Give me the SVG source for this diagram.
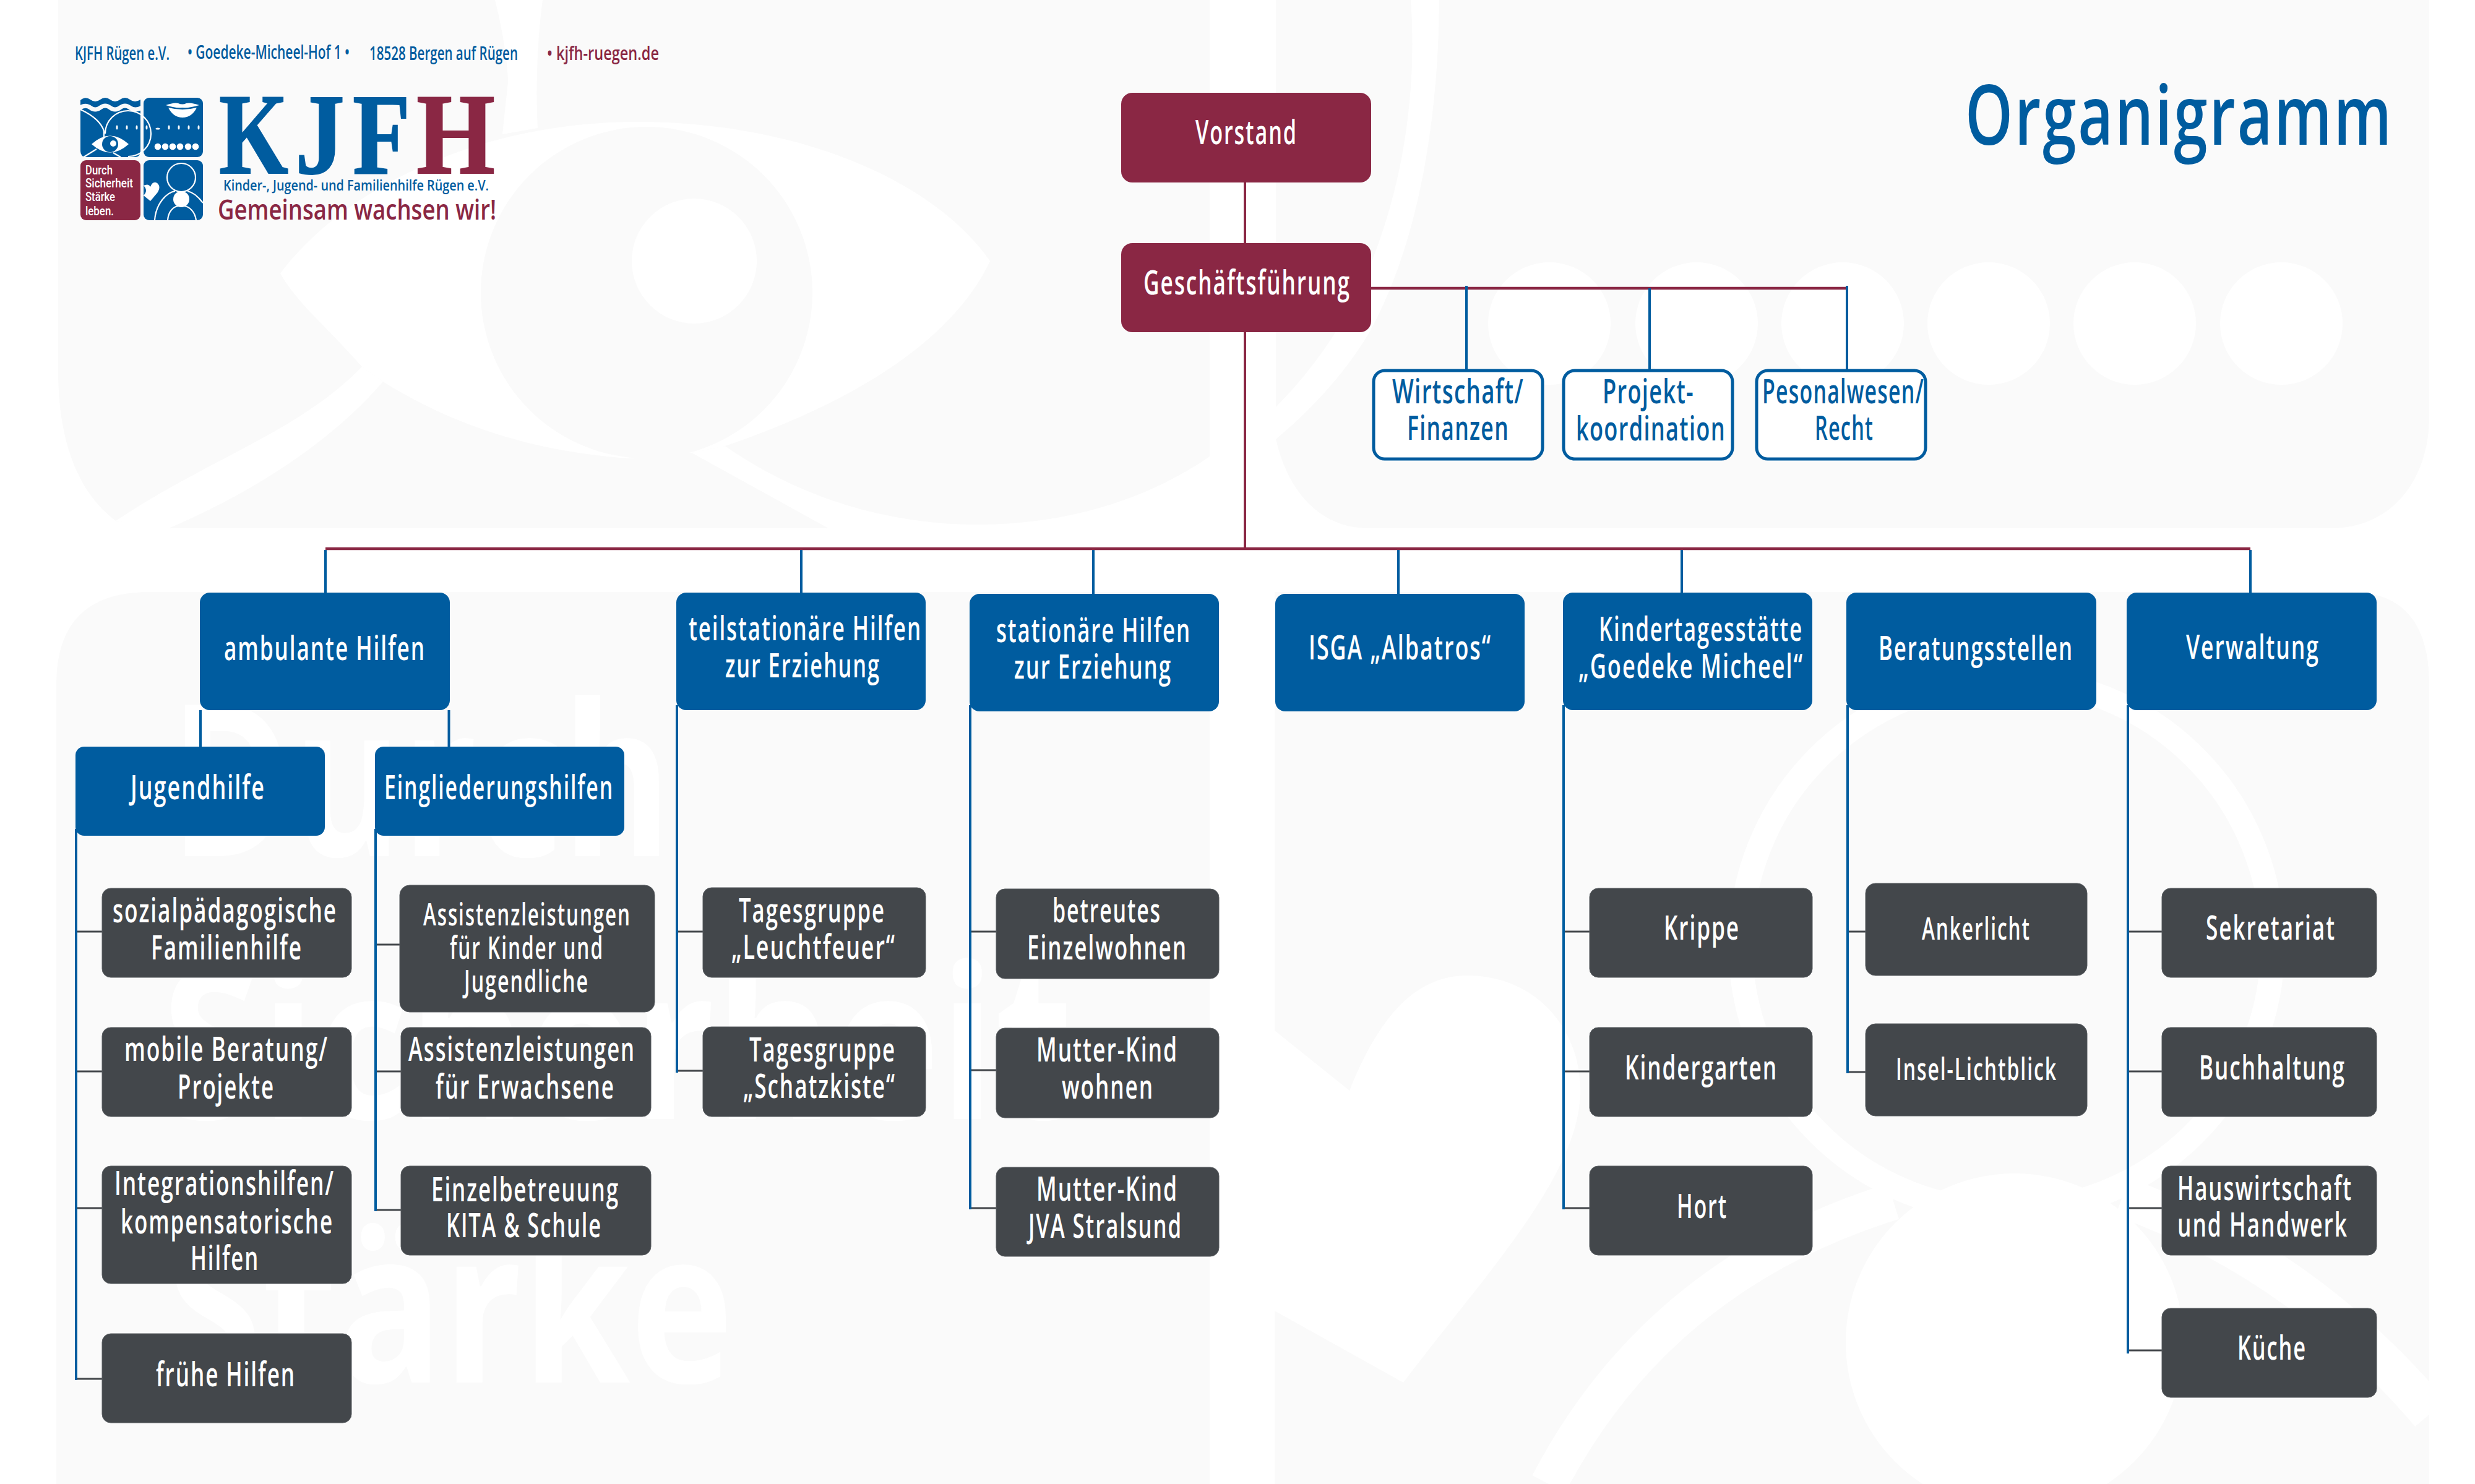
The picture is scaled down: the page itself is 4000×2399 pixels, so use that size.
<svg xmlns="http://www.w3.org/2000/svg" width="4000" height="2399" viewBox="0 0 4000 2399">
<style>
text{font-family:"Open Sans","Noto Sans","Liberation Sans",sans-serif;font-weight:600}
.bg{fill:#fafafa}.wh{fill:#fff}
.mark{font-weight:700;font-size:343px;fill:#fff}
.m{fill:#8a2744}.b{fill:#005c9f}.d{fill:#43474b;stroke:#5a5e62;stroke-width:1}.o{fill:#fff;stroke:#005c9f;stroke-width:5}
.l{fill:#fff;font-size:55px;letter-spacing:3px}.ls{fill:#fff;font-size:50px;letter-spacing:3px}.lb{fill:#005c9f;font-size:55px;letter-spacing:2px}
.hb{fill:#005c9f;font-size:31px}.hm{fill:#8a2744;font-size:31px}
.red{fill:none;stroke:#8a2744;stroke-width:4}.redt{fill:none;stroke:#8a2744;stroke-width:4.500}
.blue{fill:none;stroke:#005c9f;stroke-width:4}.tick{fill:none;stroke:#43474b;stroke-width:3}
.lw{fill:none;stroke:#fff;stroke-width:2.2}.lt{fill:#fff;font-size:20px;font-family:"Roboto","Open Sans",sans-serif;font-weight:500}
.ks{font-family:"Liberation Serif",serif;font-weight:700;font-size:186px;stroke-width:2}
</style>

<g id="background">
<path class="bg" d="M94,0H1955V854H268L187,842C130,800 94,720 94,600Z"/>
<path class="bg" d="M2062,0H3926V674C3926,770 3870,854 3766,854H2212C2130,854 2080,790 2062,710Z"/>
<path class="bg" d="M91,2399V1107Q91,957 241,957H1955V2399Z"/>
<path class="bg" d="M2060,957H3798Q3926,957 3926,1107V2399H2060Z"/>
<path class="wh" d="M800,0C815,60 821,110 821,133L812,217L869,207C865,130 870,50 877,0Z"/>
<path class="wh" d="M453,442C560,300 780,197 1031,197C1270,197 1500,280 1600,422C1540,550 1380,650 1172,721L1118,732L1018,741C850,730 720,680 619,617L585,593C530,530 480,490 453,442Z"/>
<path class="wh" d="M585,593L619,617C530,720 400,800 268,856L187,842C340,740 480,700 585,593Z"/>
<path class="wh" d="M1118,732L1172,721C1270,790 1410,848 1580,848C1720,848 1850,810 1955,738V858H1346Z"/>
<circle class="bg" cx="1045" cy="473" r="268"/>
<circle class="wh" cx="1122" cy="422" r="101"/>
<path class="wh" d="M2280,0H2326C2325,200 2290,400 2212,539C2170,610 2110,670 2062,710V658C2130,590 2190,500 2224,404C2270,280 2290,140 2280,0Z"/>
<circle class="wh" cx="2504" cy="523" r="99"/><circle class="wh" cx="2742" cy="523" r="99"/><circle class="wh" cx="2978" cy="523" r="99"/><circle class="wh" cx="3214" cy="523" r="99"/><circle class="wh" cx="3450" cy="523" r="99"/><circle class="wh" cx="3687" cy="523" r="99"/>
<text class="mark" x="275" y="1384" textLength="810" lengthAdjust="spacingAndGlyphs">Durch</text>
<text class="mark" x="261" y="1809" textLength="1473" lengthAdjust="spacingAndGlyphs">Sicherheit</text>
<text class="mark" x="268" y="2235" textLength="917" lengthAdjust="spacingAndGlyphs">Stärke</text>
<path class="wh" d="M2060,1666L2181,1763C2230,1640 2290,1577 2371,1577C2480,1577 2554,1660 2554,1763C2554,1900 2400,2060 2268,2235L2060,2119Z"/>
<circle cx="3243" cy="1528" r="430" fill="none" stroke="#fff" stroke-width="39"/>
<path d="M3060,1942Q2680,2060 2503,2399" fill="none" stroke="#fff" stroke-width="60"/>
<path d="M3430,1935Q3720,2040 3928,2285" fill="none" stroke="#fff" stroke-width="65"/>
<circle class="wh" cx="3256" cy="2170" r="273"/>
</g>

<g id="connectors">
<path class="red" d="M2012,295V393M2012,537V887"/>
<path class="redt" d="M2216,466H2985M526,887H3637"/>
<path class="blue" d="M2370,462V597M2666,466V597M2985,462V597M526,889V958M1295,889V958M1767,889V960M2260,889V960M2718,889V958M3637,889V958M324,1148V1207M725.500,1148V1207"/>
<path class="tick" d="M123,1506H165M123,1732H165M123,1953H165M123,2229H165M607,1527H646M607,1732H648M607,1956H648M1094,1506H1136M1094,1731H1136M1568,1506H1610M1568,1730H1610M1568,1953H1610M2527,1506H2569M2527,1732H2569M2527,1953H2569M2986,1506H3015M2986,1733H3015M3439,1506H3494M3439,1732H3494M3439,1953H3494M3439,2183H3494"/>
<path class="blue" d="M123,1340V2231M607,1340V1958M1094,1140V1734M1568,1140V1955M2527,1140V1955M2986,1140V1735M3439,1140V2188"/>
</g>

<g id="header">
<text class="hb" x="121" y="97" textLength="153" lengthAdjust="spacingAndGlyphs">KJFH Rügen e.V.</text>
<text class="hb" x="303" y="95" textLength="262" lengthAdjust="spacingAndGlyphs">• Goedeke-Micheel-Hof 1 •</text>
<text class="hb" x="597" y="97" textLength="240" lengthAdjust="spacingAndGlyphs">18528 Bergen auf Rügen</text>
<text class="hm" x="884" y="97" textLength="181" lengthAdjust="spacingAndGlyphs">• kjfh-ruegen.de</text>
<text id="title" x="3176" y="234" font-size="134" letter-spacing="4" fill="#005c9f" textLength="692" lengthAdjust="spacingAndGlyphs">Organigramm</text>
</g>

<g id="logo">
<path class="b" d="M130,162Q138,155 146,161T162,161T178,161T194,161T210,161T227,161V244Q227,254 217,254H140Q130,254 130,244Z"/>
<path d="M128,175Q138,168 146,174T162,174T178,174T194,174T210,174T229,174" fill="none" stroke="#fafafa" stroke-width="7"/>
<rect class="b" x="232" y="158" width="96" height="96" rx="9"/>
<rect class="m" x="130" y="259" width="97" height="97" rx="9"/>
<rect class="b" x="232" y="259" width="96" height="97" rx="9"/>
<path class="lw" d="M170,216A37,37 0 1 1 207,253"/>
<path class="lw" d="M130,177Q162,192 168,212V222M135,254L156,241M183,247L195,254"/>
<path d="M148,233Q178,206 208,233Q178,260 148,233Z" fill="#fff"/>
<circle class="b" cx="178" cy="233" r="13"/><circle class="wh" cx="183" cy="232" r="5"/>
<g fill="#fff"><ellipse cx="189" cy="206" rx="1.500" ry="3.500"/><ellipse cx="205" cy="206" rx="1.500" ry="3.500"/><ellipse cx="221" cy="206" rx="1.500" ry="3.500"/><ellipse cx="237" cy="206" rx="1.500" ry="3.500"/><ellipse cx="255" cy="208" rx="3.500" ry="1.500"/><ellipse cx="273" cy="206" rx="1.500" ry="3.500"/><ellipse cx="289" cy="206" rx="1.500" ry="3.500"/><ellipse cx="305" cy="206" rx="1.500" ry="3.500"/><ellipse cx="321" cy="206" rx="1.500" ry="3.500"/>
<circle cx="255" cy="237" r="5.300"/><circle cx="267" cy="237" r="5.300"/><circle cx="279" cy="237" r="5.300"/><circle cx="291" cy="237" r="5.300"/><circle cx="304" cy="237" r="5.300"/><circle cx="316" cy="237" r="5.300"/>
<path d="M268,170Q282,165 288,167Q295,170 301,167Q308,165 322,170Q306,175 295,174Q282,175 268,170Z"/>
<path d="M272,174Q295,180 318,174Q310,190 295,190Q280,190 272,174Z"/>
<path d="M232,300Q240,296 243,302Q247,292 254,296Q261,302 254,312L243,325L232,316Q240,308 232,300Z"/>
<circle cx="293" cy="322" r="13"/></g>
<circle class="lw" cx="293" cy="287" r="23"/>
<path class="lw" d="M250,356C252,328 270,311 283,309M303,309C313,311 322,320 328,328M271,356C272,342 280,334 288,333M298,333C306,334 315,342 317,356"/>
<text class="lt" x="138" y="282" textLength="44" lengthAdjust="spacingAndGlyphs">Durch</text>
<text class="lt" x="138" y="303" textLength="77" lengthAdjust="spacingAndGlyphs">Sicherheit</text>
<text class="lt" x="138" y="325" textLength="48" lengthAdjust="spacingAndGlyphs">Stärke</text>
<text class="lt" x="138" y="348" textLength="46" lengthAdjust="spacingAndGlyphs">leben.</text>
<text class="ks b" stroke="#005c9f" x="354" y="280" textLength="112" lengthAdjust="spacingAndGlyphs">K</text>
<text class="ks b" stroke="#005c9f" x="477" y="280" textLength="80" lengthAdjust="spacingAndGlyphs">J</text>
<text class="ks b" stroke="#005c9f" x="570" y="280" textLength="93" lengthAdjust="spacingAndGlyphs">F</text>
<text class="ks m" stroke="#8a2744" x="673" y="280" textLength="127" lengthAdjust="spacingAndGlyphs">H</text>
<text x="361" y="308" font-size="24" fill="#005c9f" textLength="429" lengthAdjust="spacingAndGlyphs">Kinder-, Jugend- und Familienhilfe Rügen e.V.</text>
<text x="352" y="355" font-size="46" fill="#8a2744" textLength="450" lengthAdjust="spacingAndGlyphs">Gemeinsam wachsen wir!</text>
</g>

<g id="n-vorstand"><rect class="m" x="1812" y="150" width="404" height="145" rx="18"/><text class="l" x="1932" y="233" textLength="165" lengthAdjust="spacingAndGlyphs">Vorstand</text></g>
<g id="n-gf"><rect class="m" x="1812" y="393" width="404" height="144" rx="18"/><text class="l" x="1848" y="476" textLength="335" lengthAdjust="spacingAndGlyphs">Geschäftsführung</text></g>
<g id="n-wirtschaft"><rect class="o" x="2220" y="599" width="273" height="143" rx="18"/><text class="lb" x="2250" y="652" textLength="213" lengthAdjust="spacingAndGlyphs">Wirtschaft/</text><text class="lb" x="2274" y="711" textLength="165" lengthAdjust="spacingAndGlyphs">Finanzen</text></g>
<g id="n-projekt"><rect class="o" x="2527" y="599" width="273" height="143" rx="18"/><text class="lb" x="2590" y="652" textLength="148" lengthAdjust="spacingAndGlyphs">Projekt-</text><text class="lb" x="2547" y="712" textLength="242" lengthAdjust="spacingAndGlyphs">koordination</text></g>
<g id="n-personal"><rect class="o" x="2839" y="599" width="273" height="143" rx="18"/><text class="lb" x="2848" y="652" textLength="262" lengthAdjust="spacingAndGlyphs">Pesonalwesen/</text><text class="lb" x="2933" y="711" textLength="95" lengthAdjust="spacingAndGlyphs">Recht</text></g>

<g id="n-ambulant"><rect class="b" x="323" y="958" width="404" height="190" rx="16"/><text class="l" x="362" y="1067" textLength="326" lengthAdjust="spacingAndGlyphs">ambulante Hilfen</text></g>
<g id="n-teil"><rect class="b" x="1093" y="958" width="403" height="190" rx="16"/><text class="l" x="1113" y="1035" textLength="377" lengthAdjust="spacingAndGlyphs">teilstationäre Hilfen</text><text class="l" x="1172" y="1095" textLength="251" lengthAdjust="spacingAndGlyphs">zur Erziehung</text></g>
<g id="n-stat"><rect class="b" x="1567" y="960" width="403" height="190" rx="16"/><text class="l" x="1610" y="1038" textLength="315" lengthAdjust="spacingAndGlyphs">stationäre Hilfen</text><text class="l" x="1639" y="1097" textLength="255" lengthAdjust="spacingAndGlyphs">zur Erziehung</text></g>
<g id="n-isga"><rect class="b" x="2061" y="960" width="403" height="190" rx="16"/><text class="l" x="2115" y="1066" textLength="296" lengthAdjust="spacingAndGlyphs">ISGA „Albatros“</text></g>
<g id="n-kita"><rect class="b" x="2526" y="958" width="403" height="190" rx="16"/><text class="l" x="2584" y="1036" textLength="330" lengthAdjust="spacingAndGlyphs">Kindertagesstätte</text><text class="l" x="2551" y="1096" textLength="364" lengthAdjust="spacingAndGlyphs">„Goedeke Micheel“</text></g>
<g id="n-beratung"><rect class="b" x="2984" y="958" width="404" height="190" rx="16"/><text class="l" x="3036" y="1067" textLength="315" lengthAdjust="spacingAndGlyphs">Beratungsstellen</text></g>
<g id="n-verwaltung"><rect class="b" x="3437" y="958" width="404" height="190" rx="16"/><text class="l" x="3533" y="1065" textLength="216" lengthAdjust="spacingAndGlyphs">Verwaltung</text></g>
<g id="n-jugend"><rect class="b" x="122" y="1207" width="403" height="144" rx="14"/><text class="l" x="211" y="1292" textLength="218" lengthAdjust="spacingAndGlyphs">Jugendhilfe</text></g>
<g id="n-einglied"><rect class="b" x="606" y="1207" width="403" height="144" rx="14"/><text class="l" x="621" y="1292" textLength="371" lengthAdjust="spacingAndGlyphs">Eingliederungshilfen</text></g>

<g id="n-sozial"><rect class="d" x="165" y="1436" width="403" height="144" rx="14"/><text class="l" x="182" y="1491" textLength="363" lengthAdjust="spacingAndGlyphs">sozialpädagogische</text><text class="l" x="244" y="1551" textLength="245" lengthAdjust="spacingAndGlyphs">Familienhilfe</text></g>
<g id="n-mobile"><rect class="d" x="165" y="1661" width="403" height="144" rx="14"/><text class="l" x="201" y="1715" textLength="330" lengthAdjust="spacingAndGlyphs">mobile Beratung/</text><text class="l" x="287" y="1776" textLength="157" lengthAdjust="spacingAndGlyphs">Projekte</text></g>
<g id="n-integration"><rect class="d" x="165" y="1885" width="403" height="190" rx="14"/><text class="l" x="185" y="1932" textLength="356" lengthAdjust="spacingAndGlyphs">Integrationshilfen/</text><text class="l" x="195" y="1994" textLength="344" lengthAdjust="spacingAndGlyphs">kompensatorische</text><text class="l" x="308" y="2053" textLength="111" lengthAdjust="spacingAndGlyphs">Hilfen</text></g>
<g id="n-fruehe"><rect class="d" x="165" y="2156" width="403" height="144" rx="14"/><text class="l" x="252" y="2241" textLength="226" lengthAdjust="spacingAndGlyphs">frühe Hilfen</text></g>
<g id="n-assist1"><rect class="d" x="646" y="1431" width="412" height="205" rx="16"/><text class="ls" x="684" y="1496" textLength="336" lengthAdjust="spacingAndGlyphs">Assistenzleistungen</text><text class="ls" x="727" y="1550" textLength="249" lengthAdjust="spacingAndGlyphs">für Kinder und</text><text class="ls" x="750" y="1604" textLength="202" lengthAdjust="spacingAndGlyphs">Jugendliche</text></g>
<g id="n-assist2"><rect class="d" x="648" y="1661" width="404" height="144" rx="14"/><text class="l" x="660" y="1715" textLength="367" lengthAdjust="spacingAndGlyphs">Assistenzleistungen</text><text class="l" x="704" y="1776" textLength="290" lengthAdjust="spacingAndGlyphs">für Erwachsene</text></g>
<g id="n-einzel"><rect class="d" x="648" y="1885" width="404" height="144" rx="14"/><text class="l" x="697" y="1942" textLength="304" lengthAdjust="spacingAndGlyphs">Einzelbetreuung</text><text class="l" x="721" y="2000" textLength="252" lengthAdjust="spacingAndGlyphs">KITA &amp; Schule</text></g>
<g id="n-leucht"><rect class="d" x="1136" y="1435" width="360" height="145" rx="14"/><text class="l" x="1194" y="1491" textLength="237" lengthAdjust="spacingAndGlyphs">Tagesgruppe</text><text class="l" x="1182" y="1550" textLength="266" lengthAdjust="spacingAndGlyphs">„Leuchtfeuer“</text></g>
<g id="n-schatz"><rect class="d" x="1136" y="1660" width="360" height="145" rx="14"/><text class="l" x="1211" y="1716" textLength="237" lengthAdjust="spacingAndGlyphs">Tagesgruppe</text><text class="l" x="1201" y="1775" textLength="247" lengthAdjust="spacingAndGlyphs">„Schatzkiste“</text></g>
<g id="n-betreut"><rect class="d" x="1610" y="1437" width="360" height="145" rx="14"/><text class="l" x="1701" y="1491" textLength="176" lengthAdjust="spacingAndGlyphs">betreutes</text><text class="l" x="1660" y="1551" textLength="259" lengthAdjust="spacingAndGlyphs">Einzelwohnen</text></g>
<g id="n-mk1"><rect class="d" x="1610" y="1662" width="360" height="145" rx="14"/><text class="l" x="1675" y="1716" textLength="229" lengthAdjust="spacingAndGlyphs">Mutter-Kind</text><text class="l" x="1716" y="1776" textLength="149" lengthAdjust="spacingAndGlyphs">wohnen</text></g>
<g id="n-mk2"><rect class="d" x="1610" y="1887" width="360" height="144" rx="14"/><text class="l" x="1675" y="1941" textLength="229" lengthAdjust="spacingAndGlyphs">Mutter-Kind</text><text class="l" x="1662" y="2001" textLength="249" lengthAdjust="spacingAndGlyphs">JVA Stralsund</text></g>
<g id="n-krippe"><rect class="d" x="2569" y="1436" width="360" height="144" rx="14"/><text class="l" x="2689" y="1519" textLength="123" lengthAdjust="spacingAndGlyphs">Krippe</text></g>
<g id="n-kiga"><rect class="d" x="2569" y="1661" width="360" height="144" rx="14"/><text class="l" x="2626" y="1745" textLength="247" lengthAdjust="spacingAndGlyphs">Kindergarten</text></g>
<g id="n-hort"><rect class="d" x="2569" y="1885" width="360" height="144" rx="14"/><text class="l" x="2710" y="1969" textLength="82" lengthAdjust="spacingAndGlyphs">Hort</text></g>
<g id="n-anker"><rect class="d" x="3015" y="1428" width="358" height="149" rx="16"/><text class="ls" x="3106" y="1519" textLength="176" lengthAdjust="spacingAndGlyphs">Ankerlicht</text></g>
<g id="n-insel"><rect class="d" x="3015" y="1655" width="358" height="149" rx="16"/><text class="ls" x="3064" y="1746" textLength="261" lengthAdjust="spacingAndGlyphs">Insel-Lichtblick</text></g>
<g id="n-sek"><rect class="d" x="3494" y="1436" width="347" height="144" rx="14"/><text class="l" x="3565" y="1519" textLength="210" lengthAdjust="spacingAndGlyphs">Sekretariat</text></g>
<g id="n-buch"><rect class="d" x="3494" y="1661" width="347" height="144" rx="14"/><text class="l" x="3554" y="1745" textLength="237" lengthAdjust="spacingAndGlyphs">Buchhaltung</text></g>
<g id="n-haus"><rect class="d" x="3494" y="1885" width="347" height="144" rx="14"/><text class="l" x="3519" y="1940" textLength="283" lengthAdjust="spacingAndGlyphs">Hauswirtschaft</text><text class="l" x="3519" y="1999" textLength="276" lengthAdjust="spacingAndGlyphs">und Handwerk</text></g>
<g id="n-kueche"><rect class="d" x="3494" y="2115" width="347" height="144" rx="14"/><text class="l" x="3616" y="2198" textLength="112" lengthAdjust="spacingAndGlyphs">Küche</text></g>
</svg>
